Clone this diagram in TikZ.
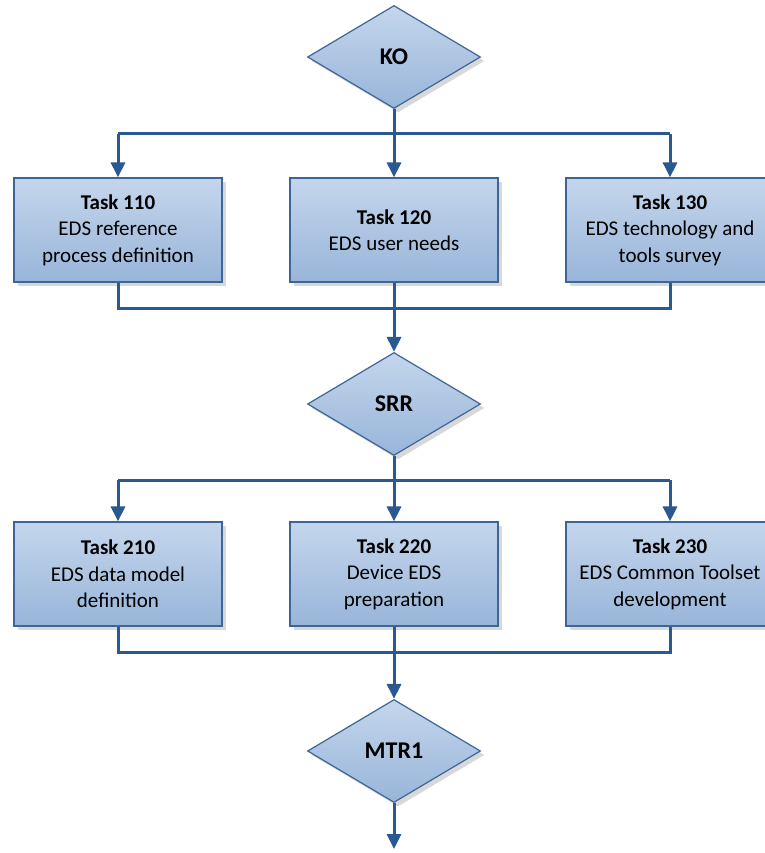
\documentclass[tikz,border=0pt]{standalone}
\usepackage{fontspec}
\setmainfont{Carlito}
\usetikzlibrary{shapes.geometric,arrows.meta,shadows,calc}
\definecolor{lineblue}{HTML}{2A5890}
\definecolor{edgeblue}{HTML}{3D6598}
\definecolor{filltop}{HTML}{C4D6EC}
\definecolor{fillbot}{HTML}{98B5D9}
\tikzset{
  taskbox/.style={draw=edgeblue, line width=1.2pt, top color=filltop, bottom color=fillbot,
    minimum width=208pt, minimum height=104pt, align=center, font=\fontsize{21}{26.5}\selectfont,
    drop shadow={shadow xshift=4pt, shadow yshift=-4pt, fill=black!30}},
  gate/.style={diamond, draw=edgeblue, line width=1.2pt, top color=filltop, bottom color=fillbot,
    aspect=1.68, minimum width=173pt, minimum height=103pt, inner sep=0pt,
    font=\fontsize{24}{28}\selectfont\bfseries,
    drop shadow={shadow xshift=4pt, shadow yshift=-4pt, fill=black!30}},
  conn/.style={draw=lineblue, line width=3pt},
  arr/.style={conn, -{Triangle[length=15pt,width=14pt]}}
}
\begin{document}
\begin{tikzpicture}[x=1pt,y=-1pt]
\useasboundingbox (0,0) rectangle (764,853);
\fill[white] (0,0) rectangle (764,853);
% nodes
\node[gate] (ko) at (394,57) {KO};
\node[taskbox] (t110) at (118,230) {\textbf{Task 110}\\EDS reference\\process definition};
\node[taskbox] (t120) at (394,230) {\textbf{Task 120}\\EDS user needs};
\node[taskbox] (t130) at (670,230) {\textbf{Task 130}\\EDS technology and\\tools survey};
\node[gate] (srr) at (394,404) {SRR};
\node[taskbox] (t210) at (118,574) {\textbf{Task 210}\\EDS data model\\definition};
\node[taskbox] (t220) at (394,574) {\textbf{Task 220}\\Device EDS\\preparation};
\node[taskbox] (t230) at (670,574) {\textbf{Task 230}\\EDS Common Toolset\\development};
\node[gate] (mtr) at (394,751) {MTR1};
\coordinate (s1) at (394,134);
\coordinate (j1) at (394,308);
\coordinate (s2) at (394,480);
\coordinate (j2) at (394,652);
\coordinate (endp) at (394,849);
% connectors row 1
\draw[conn] (t110.north |- s1) -- (t130.north |- s1);
\draw[arr] (ko.south) -- (t120.north);
\draw[arr] (t110.north |- s1) -- (t110.north);
\draw[arr] (t130.north |- s1) -- (t130.north);
\draw[conn] (t110.south) -- (t110.south |- j1) -- (t130.south |- j1) -- (t130.south);
\draw[arr] (t120.south) -- (srr.north);
% connectors row 2
\draw[conn] (t210.north |- s2) -- (t230.north |- s2);
\draw[arr] (srr.south) -- (t220.north);
\draw[arr] (t210.north |- s2) -- (t210.north);
\draw[arr] (t230.north |- s2) -- (t230.north);
\draw[conn] (t210.south) -- (t210.south |- j2) -- (t230.south |- j2) -- (t230.south);
\draw[arr] (t220.south) -- (mtr.north);
\draw[arr] (mtr.south) -- (endp);
\end{tikzpicture}
\end{document}
